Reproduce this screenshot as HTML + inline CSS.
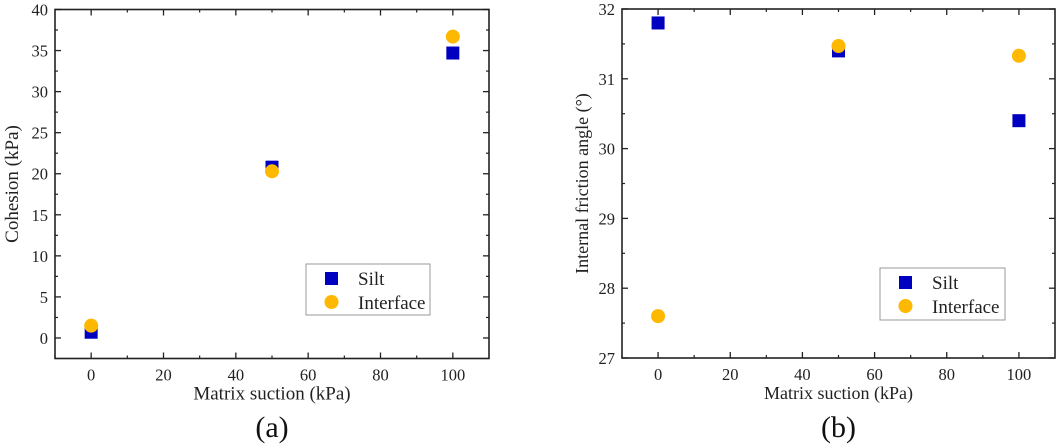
<!DOCTYPE html>
<html><head><meta charset="utf-8"><style>
body{margin:0;background:#fff;}
svg{display:block;font-family:"Liberation Serif",serif;}
</style></head><body>
<svg id="chart" width="1059" height="447" viewBox="0 0 1059 447"></svg>
<script>
const xCats=[0,50,100];
const xTicks=[0,20,40,60,80,100];
const aSilt=[0.7,20.8,34.7];
const aInterface=[1.5,20.3,36.7];
const aTicks=[0,5,10,15,20,25,30,35,40];
const bSilt=[31.8,31.4,30.4];
const bInterface=[27.6,31.47,31.33];
const bTicks=[27,28,29,30,31,32];

const NS="http://www.w3.org/2000/svg";
const svg=document.getElementById('chart');
function mk(tag,attrs,parent){const e=document.createElementNS(NS,tag);for(const k in attrs)e.setAttribute(k,attrs[k]);(parent||svg).appendChild(e);return e;}

function panel(cfg){
  const g=mk('g',{});
  
  
  const {L,R,T,B,xmin,xmax,ymin,ymax,fs}=cfg;
  const sx=v=>L+(v-xmin)/(xmax-xmin)*(R-L);
  const sy=v=>B-(v-ymin)/(ymax-ymin)*(B-T);
  const frame=mk('rect',{x:L,y:T,width:R-L,height:B-T,fill:'none',stroke:'#222','stroke-width':1.6},g);
  
  
  xTicks.forEach((v,i)=>{
    const x=sx(v);
    mk('line',{x1:x,y1:B,x2:x,y2:B-6,stroke:'#222','stroke-width':1.3},g);
    mk('line',{x1:x,y1:T,x2:x,y2:T+6,stroke:'#222','stroke-width':1.3},g);
    const xm=sx(v+10);
    if(xm<R){mk('line',{x1:xm,y1:B,x2:xm,y2:B-3,stroke:'#222','stroke-width':1.2},g);mk('line',{x1:xm,y1:T,x2:xm,y2:T+3,stroke:'#222','stroke-width':1.2},g);}
    const t=mk('text',{x:x,y:B+22,'text-anchor':'middle','font-size':16.5,fill:'#222'},g);
    t.textContent=v;
    
    
  });
  const xm0=sx(xTicks[0]-10);
  mk('line',{x1:xm0,y1:B,x2:xm0,y2:B-3,stroke:'#222','stroke-width':1.2},g);
  const ys=cfg.yTicks, step=ys[1]-ys[0];
  ys.forEach(v=>{
    const y=sy(v);
    mk('line',{x1:L,y1:y,x2:L+6,y2:y,stroke:'#222','stroke-width':1.3},g);
    mk('line',{x1:R-6,y1:y,x2:R,y2:y,stroke:'#222','stroke-width':1.3},g);
    const ym=sy(v+step/2);
    if(ym>T){mk('line',{x1:L,y1:ym,x2:L+3,y2:ym,stroke:'#222','stroke-width':1.2},g);mk('line',{x1:R-3,y1:ym,x2:R,y2:ym,stroke:'#222','stroke-width':1.2},g);}
    const t=mk('text',{x:L-7,y:y+6,'text-anchor':'end','font-size':16.5,fill:'#222'},g);
    t.textContent=v;
    
    
  });
  const xt=mk('text',{x:(L+R)/2,y:B+41,'text-anchor':'middle','font-size':fs,fill:'#222'},g);
  xt.textContent='Matrix suction (kPa)';
  
  
  const yt=mk('text',{x:0,y:0,'text-anchor':'middle','font-size':fs,fill:'#222',transform:`translate(${cfg.ytx},${(T+B)/2}) rotate(-90)`},g);
  yt.textContent=cfg.ytitle;
  
  
  const cap=mk('text',{x:(L+R)/2,y:437,'text-anchor':'middle','font-size':30,fill:'#111'},g);
  cap.textContent=cfg.cap;
  
  
  xCats.forEach((c,i)=>{
    const r=mk('rect',{x:sx(c)-6.5,y:sy(cfg.silt[i])-6.5,width:13,height:13,fill:'#0000c0'},g);
    
    
  });
  xCats.forEach((c,i)=>{
    const p=mk('circle',{cx:sx(c),cy:sy(cfg.inter[i]),r:7,fill:'#ffb800'},g);
    
    
  });
  const [lx,ly,lw,lh]=cfg.leg;
  const lg=mk('g',{},g);
  
  
  mk('rect',{x:lx,y:ly,width:lw,height:lh,fill:'#fff',stroke:'#999','stroke-width':1},lg);
  mk('rect',{x:lx+19,y:ly+8,width:13,height:13,fill:'#0000c0'},lg);
  mk('circle',{cx:lx+25.5,cy:ly+38,r:7,fill:'#ffb800'},lg);
  const t1=mk('text',{x:lx+52,y:ly+21,'font-size':19,fill:'#222'},lg);t1.textContent='Silt';
  
  
  const t2=mk('text',{x:lx+52,y:ly+45,'font-size':19,fill:'#222'},lg);t2.textContent='Interface';
  
  
}
panel({name:'panel-a-cohesion',L:55,R:489,T:9.5,B:358.5,xmin:-10,xmax:110,ymin:-2.5,ymax:40,yTicks:aTicks,silt:aSilt,inter:aInterface,ytitle:'Cohesion (kPa)',ytx:18,cap:'(a)',fs:19,leg:[306,264,124,51]});
panel({name:'panel-b-friction-angle',L:622,R:1055,T:9,B:358,xmin:-10,xmax:110,ymin:27,ymax:32,yTicks:bTicks,silt:bSilt,inter:bInterface,ytitle:'Internal friction angle (°)',ytx:588,cap:'(b)',fs:18,leg:[880,268,125,52]});
</script>
</body></html>
